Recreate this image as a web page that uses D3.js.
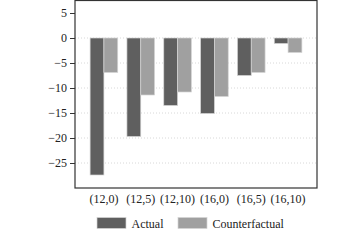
<!DOCTYPE html>
<html>
<head>
<meta charset="utf-8">
<script src="https://cdn.jsdelivr.net/npm/d3@7"></script>
<style>
  html, body { margin: 0; padding: 0; background: #fff; }
  svg { display: block; }
  text { font-family: "Liberation Serif", "Times New Roman", serif; font-size: 12px; fill: #222; }
</style>
</head>
<body>
<script>
const categories = ["(12,0)", "(12,5)", "(12,10)", "(16,0)", "(16,5)", "(16,10)"];
const seriesNames = ["Actual", "Counterfactual"];
const actual = [-27.4, -19.7, -13.5, -15.1, -7.5, -1.1];
const counterfactual = [-6.9, -11.4, -10.8, -11.7, -6.9, -2.9];
const yTicks = [5, 0, -5, -10, -15, -20, -25];
const gridTicks = [0, -5, -10, -15, -20, -25];

const colors = { "Actual": "#5f5f5f", "Counterfactual": "#a0a0a0" };
const W = 360, H = 240;
const plot = { left: 75, right: 317, top: 0.5, bottom: 188 };

const svg = d3.select("body").append("svg").attr("width", W).attr("height", H);

const x = d3.scaleBand().domain(categories).range([plot.left, plot.right])
  .paddingInner(0.25).paddingOuter(0.41);
const xs = d3.scaleBand().domain(seriesNames).range([0, x.bandwidth()]);
const y = d3.scaleLinear().domain([-30, 7.5]).range([plot.bottom, plot.top]);

// gridlines
svg.append("g").selectAll("line").data(gridTicks).join("line")
  .attr("x1", plot.left).attr("x2", plot.right)
  .attr("y1", d => y(d)).attr("y2", d => y(d))
  .attr("stroke", "#d8d8d8").attr("stroke-width", 1).attr("stroke-dasharray", "1,2");

const rows = categories.map((c, i) => ({ cat: c, values: [
  { s: "Actual", v: actual[i] }, { s: "Counterfactual", v: counterfactual[i] } ] }));

const g = svg.append("g").selectAll("g").data(rows).join("g")
  .attr("transform", d => `translate(${x(d.cat)},0)`);
g.selectAll("rect").data(d => d.values).join("rect")
  .attr("x", d => xs(d.s)).attr("width", xs.bandwidth())
  .attr("y", d => Math.min(y(0), y(d.v)))
  .attr("height", d => Math.abs(y(d.v) - y(0)))
  .attr("fill", d => colors[d.s])
  .attr("stroke", "#d4d4d4").attr("stroke-width", 0.7);

// frame
svg.append("rect").attr("x", plot.left).attr("y", plot.top)
  .attr("width", plot.right - plot.left).attr("height", plot.bottom - plot.top)
  .attr("fill", "none").attr("stroke", "#333").attr("stroke-width", 1.2);

// y axis
const yAxis = d3.axisLeft(y).tickValues(yTicks).tickSize(5).tickPadding(3)
  .tickFormat(d => d < 0 ? "\u2212" + Math.abs(d) : String(d));
const ya = svg.append("g").attr("transform", `translate(${plot.left},0)`).call(yAxis);
ya.select(".domain").remove();
ya.selectAll("line").attr("stroke", "#333");
ya.selectAll("text").attr("font-size", 12).attr("font-family", "Liberation Serif").attr("fill", "#222");

// x axis labels
const xAxis = d3.axisBottom(x).tickSize(0).tickPadding(6);
const xa = svg.append("g").attr("transform", `translate(0,${plot.bottom})`).call(xAxis);
xa.select(".domain").remove();
xa.selectAll("text").attr("font-size", 12).attr("font-family", "Liberation Serif").attr("fill", "#222");

// legend
const legendItems = [
  { name: "Actual", x: 97 },
  { name: "Counterfactual", x: 178 }
];
const lg = svg.append("g").selectAll("g").data(legendItems).join("g")
  .attr("transform", d => `translate(${d.x},217.5)`);
lg.append("rect").attr("width", 29).attr("height", 11)
  .attr("fill", d => colors[d.name]).attr("stroke", "#d4d4d4").attr("stroke-width", 0.7);
lg.append("text").attr("x", 34.5).attr("y", 10).text(d => d.name);
</script>
</body>
</html>
